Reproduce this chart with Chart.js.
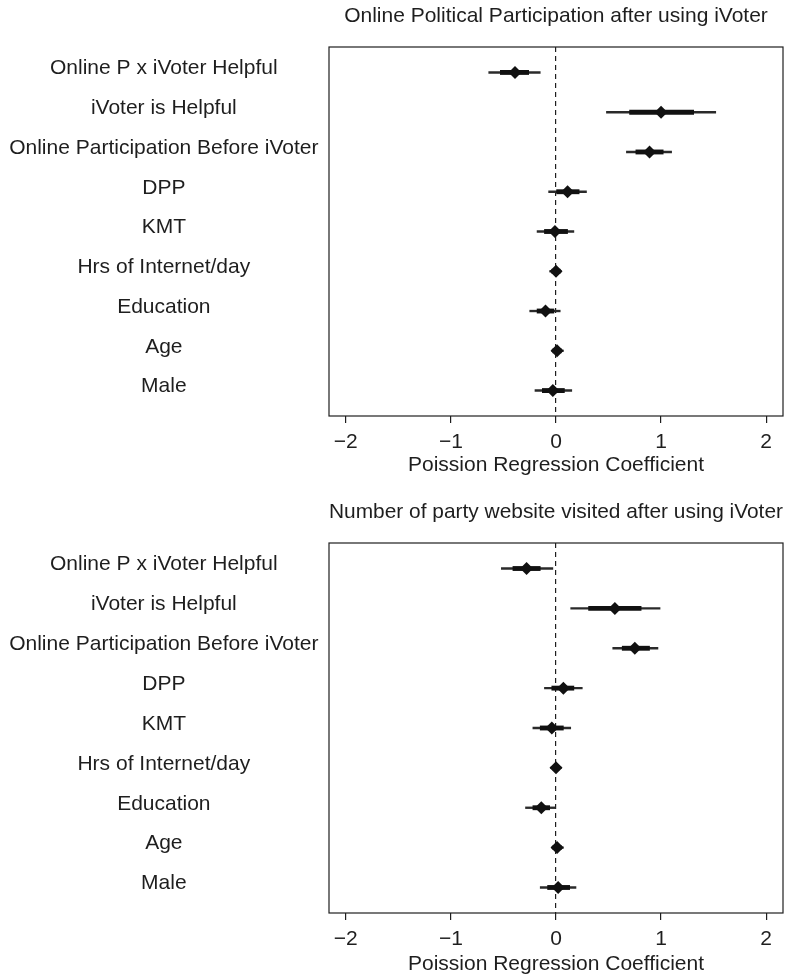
<!DOCTYPE html>
<html>
<head>
<meta charset="utf-8">
<script src="https://cdn.jsdelivr.net/npm/chart.js@4.4.1/dist/chart.umd.min.js"></script>
<style>
  html, body { margin: 0; padding: 0; background: #fff; }
  .panel { position: absolute; left: 0; width: 791px; height: 489px; }
</style>
</head>
<body>
<div class="panel" style="top:0"><canvas id="c1" width="791" height="489"></canvas></div>
<div class="panel" style="top:489px"><canvas id="c2" width="791" height="489"></canvas></div>
<script>
// ---- data ----
const labels = [
  "Online P x iVoter Helpful",
  "iVoter is Helpful",
  "Online Participation Before iVoter",
  "DPP",
  "KMT",
  "Hrs of Internet/day",
  "Education",
  "Age",
  "Male"
];
const xTickValues = [-2, -1, 0, 1, 2];
const xTickLabels = ["\u22122", "\u22121", "0", "1", "2"];

const title1 = "Online Political Participation after using iVoter";
const coef1    = [-0.39, 1.00, 0.89, 0.11, -0.01, 0.00, -0.10, 0.01, -0.03];
const thinLo1  = [-0.64, 0.48, 0.67, -0.07, -0.18, -0.06, -0.25, -0.04, -0.20];
const thinHi1  = [-0.15, 1.52, 1.10, 0.29, 0.17, 0.05, 0.04, 0.07, 0.15];
const thickLo1 = [-0.53, 0.70, 0.76, 0.00, -0.11, -0.04, -0.18, -0.03, -0.13];
const thickHi1 = [-0.26, 1.31, 1.02, 0.22, 0.11, 0.04, -0.02, 0.05, 0.08];

const title2 = "Number of party website visited after using iVoter";
const coef2    = [-0.28, 0.56, 0.75, 0.07, -0.04, 0.00, -0.14, 0.01, 0.02];
const thinLo2  = [-0.52, 0.14, 0.54, -0.11, -0.22, -0.05, -0.29, -0.04, -0.15];
const thinHi2  = [-0.03, 0.99, 0.97, 0.25, 0.14, 0.05, 0.00, 0.07, 0.19];
const thickLo2 = [-0.41, 0.31, 0.63, -0.04, -0.15, -0.03, -0.22, -0.03, -0.08];
const thickHi2 = [-0.15, 0.81, 0.89, 0.17, 0.07, 0.03, -0.06, 0.05, 0.13];

const xAxisTitle = "Poission Regression Coefficient";

// ---- drawing ----
const FONT = "'Liberation Sans', Arial, Helvetica, sans-serif";
const INK = '#1e1e1e';

const framePlugin = {
  id: 'frame',
  beforeDatasetsDraw(chart) {
    const a = chart.chartArea, ctx = chart.ctx;
    ctx.save();
    ctx.strokeStyle = INK;
    ctx.lineWidth = 1.2;
    ctx.strokeRect(a.left, a.top, a.right - a.left, a.bottom - a.top);
    ctx.restore();
  }
};

function makePanel(id, title, coef, thinLo, thinHi, thickLo, thickHi, lay) {
  const rows = labels.map((_, i) => i + 1);
  const thin = rows.map((r, i) => ({ y: r, x: [thinLo[i], thinHi[i]] }));
  const thick = rows.map((r, i) => ({ y: r, x: [thickLo[i], thickHi[i]] }));
  const pts = rows.map((r, i) => ({ y: r, x: coef[i] }));
  new Chart(document.getElementById(id), {
    type: 'bar',
    data: {
      datasets: [
        { type: 'bar', data: thin, backgroundColor: '#2a2a2a', barThickness: 1.7, grouped: false, borderWidth: 0, order: 3 },
        { type: 'bar', data: thick, backgroundColor: '#111', barThickness: 4.2, grouped: false, borderWidth: 0, order: 2 },
        { type: 'scatter', data: pts, pointStyle: 'rectRot', pointRadius: 6.5, backgroundColor: '#111',
          borderColor: '#111', borderWidth: 0, showLine: false, order: 1 }
      ]
    },
    options: {
      indexAxis: 'y',
      responsive: false,
      animation: false,
      devicePixelRatio: 1,
      layout: { padding: { left: 0, right: 8, top: 0, bottom: 0 } },
      plugins: {
        legend: { display: false },
        tooltip: { enabled: false },
        title: {
          display: true, text: title, fullSize: false, color: INK,
          font: { family: FONT, size: 21, weight: 'normal' },
          padding: { top: lay.titleTop, bottom: lay.titleBottom }
        }
      },
      scales: {
        x: {
          type: 'linear', min: -2.16, max: 2.16, offset: false,
          afterBuildTicks: s => { s.ticks = xTickValues.map(v => ({ value: v })); },
          afterFit: s => { s.height = lay.xHeight; },
          ticks: {
            color: INK, padding: lay.tickPad,
            font: { family: FONT, size: 21 },
            callback: (v) => xTickLabels[xTickValues.indexOf(v)],
            maxRotation: 0
          },
          grid: {
            display: true, drawOnChartArea: true, drawTicks: true, tickLength: 7, offset: false,
            color: c => (c.tick && c.tick.value === 0) ? INK : 'rgba(0,0,0,0)',
            lineWidth: 1.2, tickColor: INK, tickWidth: 1.2
          },
          border: { display: false, dash: [5, 4] },
          title: {
            display: true, text: xAxisTitle, color: INK,
            font: { family: FONT, size: 21 },
            padding: { top: 0, bottom: lay.titlePadB }
          }
        },
        y: {
          type: 'linear', min: 0.36, max: 9.64, reverse: true, offset: false,
          afterBuildTicks: s => { s.ticks = rows.map(v => ({ value: v })); },
          afterFit: s => { s.width = 329; },
          ticks: {
            color: INK, padding: 2.5, crossAlign: 'center', labelOffset: -4,
            font: { family: FONT, size: 21 },
            callback: (v) => labels[v - 1]
          },
          grid: { display: false, offset: false },
          border: { display: false }
        }
      }
    },
    plugins: [framePlugin]
  });
}

makePanel('c1', title1, coef1, thinLo1, thinHi1, thickLo1, thickHi1,
  { titleTop: 3.4, titleBottom: 18.4, xHeight: 73, tickPad: 7, titlePadB: 11.4 });
makePanel('c2', title2, coef2, thinLo2, thinHi2, thickLo2, thickHi2,
  { titleTop: 10.4, titleBottom: 18.4, xHeight: 65, tickPad: 7, titlePadB: 1.4 });
</script>
</body>
</html>
